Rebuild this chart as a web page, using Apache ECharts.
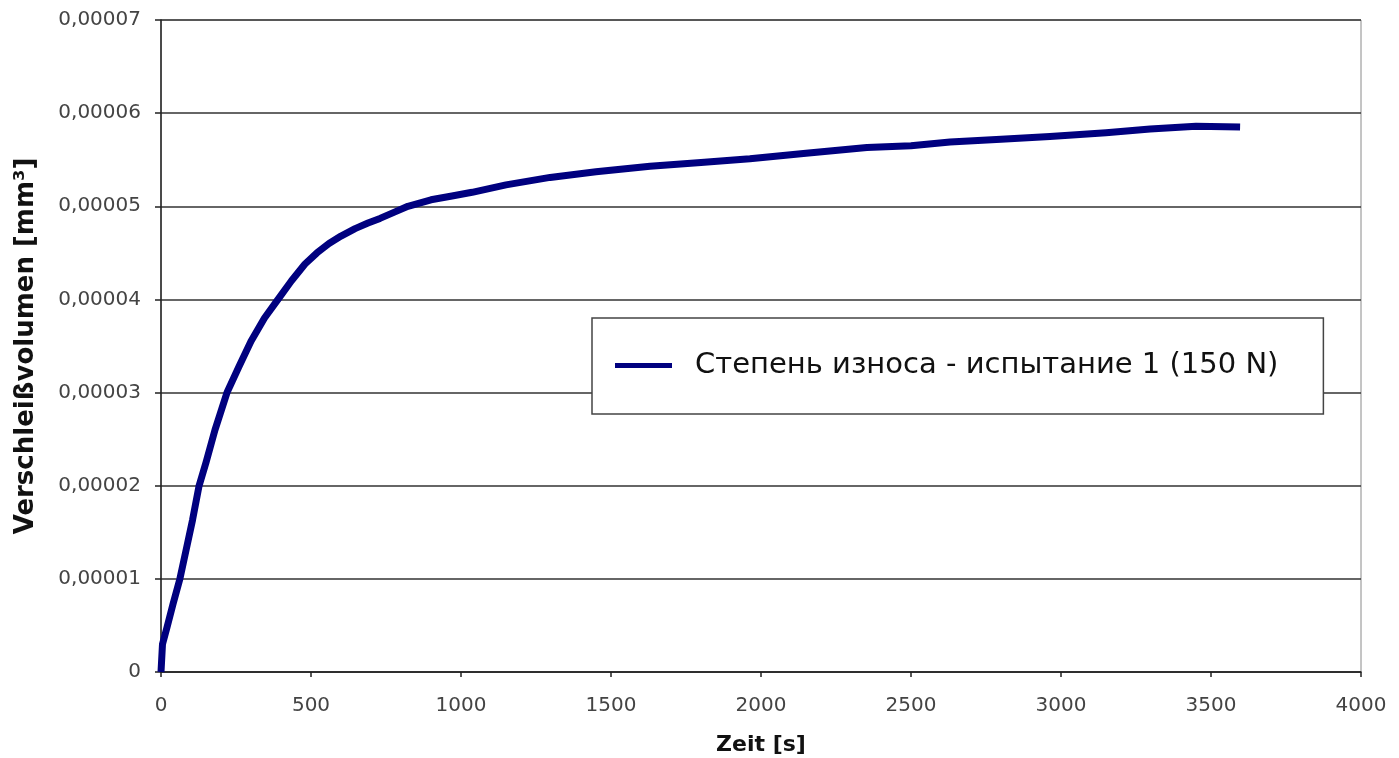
<!DOCTYPE html>
<html>
<head>
<meta charset="utf-8">
<script src="https://cdn.jsdelivr.net/npm/echarts@6/dist/echarts.min.js"></script>
<style>
html,body{margin:0;padding:0;background:#fff;}
#chart{width:1399px;height:758px;}
</style>
</head>
<body>
<div id="chart"></div>
<script>
// Time [s]
const timeValues = [0, 5, 20, 40, 63, 85, 105, 127, 150, 180, 220, 260, 300, 345, 390, 435, 480, 520, 560, 600, 647, 690, 730, 780, 823, 900, 970, 1037, 1150, 1297, 1450, 1630, 1800, 1963, 2150, 2353, 2500, 2630, 2800, 2963, 3150, 3297, 3450, 3597];
// Wear volume [mm^3]
const wearValues = [0, 0.000003, 0.0000048, 0.0000073, 0.00001, 0.0000133, 0.0000163, 0.00002, 0.0000225, 0.000026, 0.00003, 0.0000328, 0.0000355, 0.000038, 0.00004, 0.000042, 0.0000438, 0.000045, 0.000046, 0.0000468, 0.0000476, 0.0000482, 0.0000487, 0.0000494, 0.00005, 0.0000507, 0.0000511, 0.0000515, 0.0000523, 0.0000531, 0.0000537, 0.0000543, 0.0000547, 0.0000551, 0.0000557, 0.0000563, 0.0000565, 0.0000569, 0.0000572, 0.0000575, 0.0000579, 0.0000583, 0.0000586, 0.0000585];
const seriesName = 'Степень износа - испытание 1 (150 N)';
const xAxisTitle = 'Zeit [s]';
const yAxisTitle = 'Verschleißvolumen [mm³]';

const seriesData = timeValues.map((t, i) => [t, wearValues[i]]);
const FONT = 'DejaVu Sans, Liberation Sans, Arial, sans-serif';

const chart = echarts.init(document.getElementById('chart'), null, {renderer: 'canvas'});
chart.setOption({
  animation: false,
  backgroundColor: '#ffffff',
  textStyle: {fontFamily: FONT},
  grid: {
    left: 161, right: 38, top: 20, bottom: 86,
    outerBoundsMode: 'none',
    containLabel: false,
    show: true, borderColor: '#8a8a8a', borderWidth: 1, backgroundColor: 'transparent'
  },
  legend: {
    show: true,
    left: 592, top: 318,
    orient: 'horizontal',
    data: [{name: seriesName, icon: 'rect'}],
    itemWidth: 57, itemHeight: 5,
    itemStyle: {color: '#00007f'},
    padding: [33, 45, 34, 23],
    borderColor: '#444', borderWidth: 1.5,
    backgroundColor: '#fff',
    textStyle: {fontSize: 29, color: '#111', fontFamily: FONT, padding: [0, 0, 0, 18]}
  },
  xAxis: {
    type: 'value',
    min: 0, max: 4000, interval: 500,
    name: xAxisTitle,
    nameLocation: 'middle',
    nameGap: 62,
    nameTextStyle: {fontSize: 22, fontWeight: 'bold', color: '#111', fontFamily: FONT},
    axisLine: {show: true, onZero: false, lineStyle: {color: '#222', width: 1.5}},
    axisTick: {show: true, inside: false, length: 5, lineStyle: {color: '#222', width: 1.5}},
    axisLabel: {fontSize: 20, color: '#444', margin: 24, fontFamily: FONT,
      formatter: function (v) { return String(v); }},
    splitLine: {show: false}
  },
  yAxis: {
    type: 'value',
    min: 0, max: 0.00007, interval: 0.00001,
    name: yAxisTitle,
    nameLocation: 'middle',
    nameRotate: 90,
    nameGap: 122,
    nameTextStyle: {fontSize: 26, fontWeight: 'bold', color: '#111', fontFamily: FONT},
    axisLine: {show: true, lineStyle: {color: '#222', width: 1.5}},
    axisTick: {show: true, inside: false, length: 6, lineStyle: {color: '#222', width: 1.5}},
    axisLabel: {
      fontSize: 20, color: '#444', margin: 20, fontFamily: FONT,
      formatter: function (v) { return v === 0 ? '0' : v.toFixed(5).replace('.', ','); }
    },
    splitLine: {show: true, lineStyle: {color: '#333', width: 1.5}}
  },
  series: [{
    name: seriesName,
    type: 'line',
    data: seriesData,
    showSymbol: false,
    symbol: 'none',
    smooth: false,
    lineStyle: {color: '#00007f', width: 7, join: 'round', cap: 'butt'},
    itemStyle: {color: '#00007f'}
  }]
});
</script>
</body>
</html>
